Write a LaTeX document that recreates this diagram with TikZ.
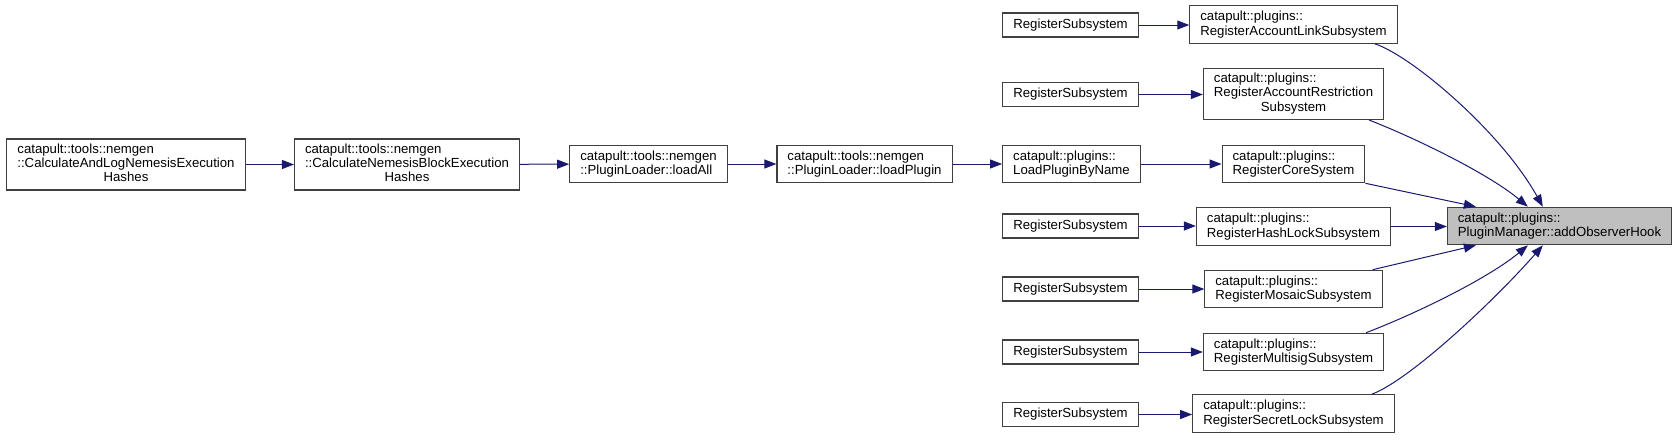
\documentclass[tikz,border=0pt]{standalone}
\usepackage{fontspec}
\setmainfont{Liberation Sans}
\usetikzlibrary{arrows.meta}
\definecolor{edgeblue}{RGB}{25,25,112}
\definecolor{boxgrey}{RGB}{64,64,64}
\definecolor{hitgrey}{RGB}{191,191,191}
\newcommand{\threelines}[3]{\begin{tabular}{@{}l@{}}#1\\#2\\\multicolumn{1}{@{}c@{}}{#3}\end{tabular}}

\begin{document}
\begin{tikzpicture}[x=1pt, y=-1pt,
  every node/.style={font={\fontsize{13.2}{14.3}\selectfont}},
  fn/.style={rectangle, draw=boxgrey, line width=1.1pt, fill=white, inner xsep=10.5pt, inner ysep=2pt, align=left},
  one/.style={fn, minimum height=24pt},
  two/.style={fn, minimum height=37.5pt},
  three/.style={fn, minimum height=51pt},
  hit/.style={two, fill=hitgrey},
  arr/.style={-{Triangle[length=12pt,width=9pt]}, line width=1pt, color=edgeblue}
]
  \useasboundingbox (0,0) rectangle (1678,439);

  \node[three] (calclog) at (126,164.5) {\threelines{catapult::tools::nemgen}{::CalculateAndLogNemesisExecution}{Hashes}};
  \node[three] (calcblock) at (407,164.5) {\threelines{catapult::tools::nemgen}{::CalculateNemesisBlockExecution}{Hashes}};
  \node[two] (loadall) at (648.5,164) {catapult::tools::nemgen\\::PluginLoader::loadAll};
  \node[two] (loadplugin) at (864.5,164) {catapult::tools::nemgen\\::PluginLoader::loadPlugin};
  \node[two] (byname) at (1071.5,164) {catapult::plugins::\\LoadPluginByName};
  \node[two] (core) at (1293.5,164) {catapult::plugins::\\RegisterCoreSystem};
  \node[hit] (hook) at (1559.5,226) {catapult::plugins::\\PluginManager::addObserverHook};

  \node[two] (link) at (1293.5,24.5) {catapult::plugins::\\RegisterAccountLinkSubsystem};
  \node[three] (restr) at (1293.5,94) {\threelines{catapult::plugins::}{RegisterAccountRestriction}{Subsystem}};
  \node[two] (hashlock) at (1293.5,226.5) {catapult::plugins::\\RegisterHashLockSubsystem};
  \node[two] (mosaic) at (1293.5,289) {catapult::plugins::\\RegisterMosaicSubsystem};
  \node[two] (multisig) at (1293.5,352) {catapult::plugins::\\RegisterMultisigSubsystem};
  \node[two] (secret) at (1293.5,413.5) {catapult::plugins::\\RegisterSecretLockSubsystem};

  \foreach \y/\n in {25/link, 94.5/restr, 226/hashlock, 289/mosaic, 352/multisig, 414.5/secret} {
    \node[one] (rs\n) at (1070.5,\y) {RegisterSubsystem};
    \draw[arr] (rs\n.east) -- (rs\n.east -| \n.west);
  }

  \draw[arr] (calclog) -- (calcblock);
  \draw[arr] (calcblock) -- (loadall);
  \draw[arr] (loadall) -- (loadplugin);
  \draw[arr] (loadplugin) -- (byname);
  \draw[arr] (byname) -- (core);
  \draw[arr] (hashlock.east) -- (hashlock.east -| hook.west);

  \draw[arr] ([xshift=-23pt]link.south east) .. controls (1410,55) and (1500,130) .. ([xshift=96pt]hook.north west);
  \draw[arr] ([xshift=-15pt]restr.south east) .. controls (1420,140) and (1490,175) .. ([xshift=81pt]hook.north west);
  \draw[arr] (core.south east) -- ([xshift=29pt]hook.north west);
  \draw[arr] ([xshift=-10pt]mosaic.north east) -- ([xshift=29pt]hook.south west);
  \draw[arr] ([xshift=-18pt]multisig.north east) .. controls (1420,312) and (1490,277) .. ([xshift=81pt]hook.south west);
  \draw[arr] ([xshift=-23pt]secret.north east) .. controls (1410,380) and (1495,300) .. ([xshift=96pt]hook.south west);
\end{tikzpicture}
\end{document}
